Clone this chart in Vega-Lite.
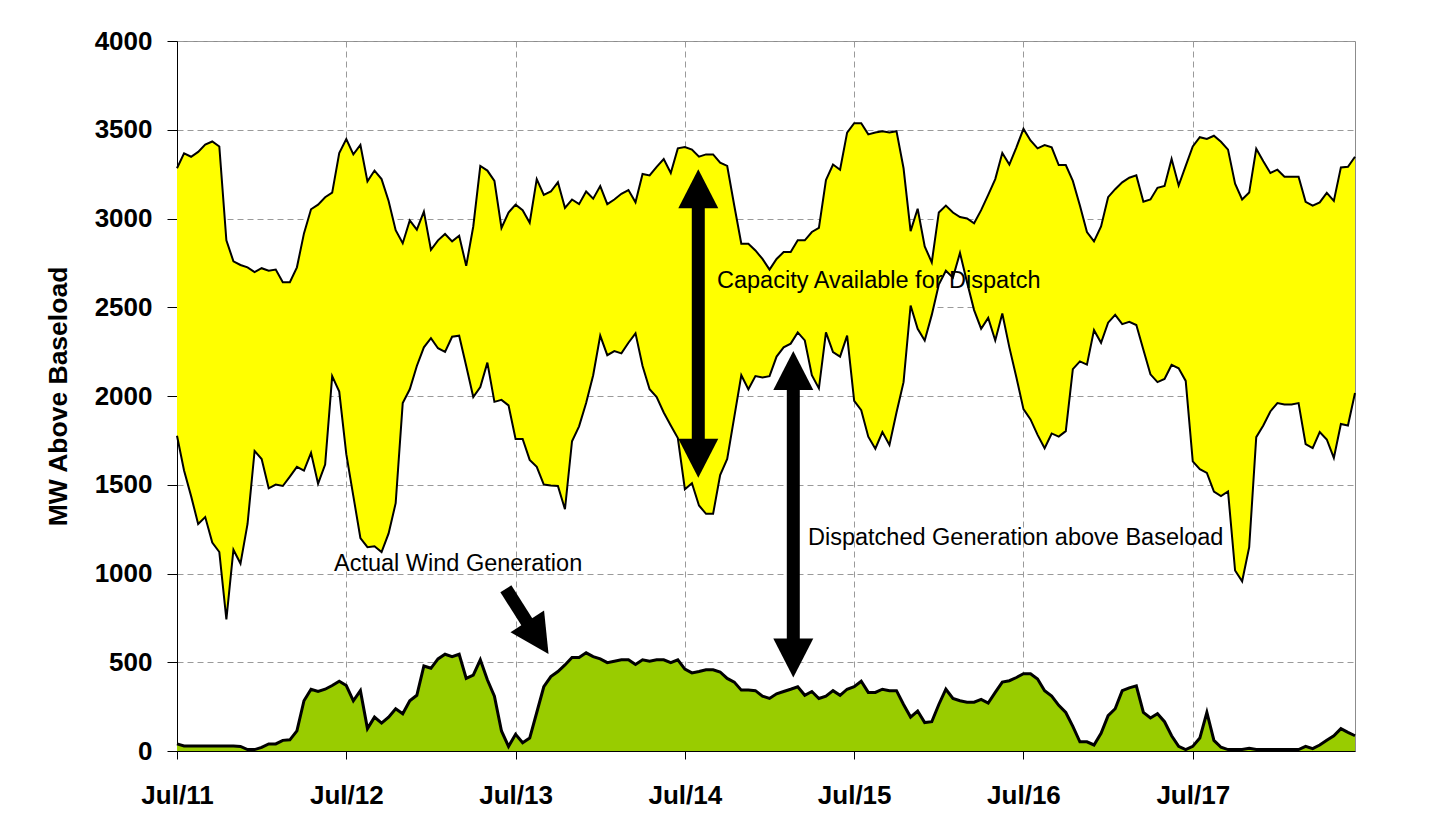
{
  "$schema": "https://vega.github.io/schema/vega-lite/v6.json",
  "width": 1178,
  "height": 710,
  "autosize": "none",
  "padding": {"left": 177, "top": 41, "right": 77, "bottom": 78},
  "background": "white",
  "config": {
    "view": {"stroke": "#8c8c8c", "strokeWidth": 1},
    "font": "Liberation Sans",
    "axis": {
      "grid": true,
      "gridColor": "#9a9a9a",
      "gridDash": [6, 4],
      "gridWidth": 1,
      "domainColor": "#000000",
      "domainWidth": 1,
      "tickColor": "#000000",
      "tickWidth": 1,
      "labelFont": "Liberation Sans",
      "labelFontWeight": "bold",
      "labelColor": "#000000",
      "titleFont": "Liberation Sans",
      "titleColor": "#000000"
    },
    "axisX": {"tickSize": 8, "labelPadding": 23, "labelFontSize": 26, "labelFlush": false, "labelOverlap": false},
    "axisY": {"tickSize": 10, "labelPadding": 15, "labelFontSize": 26, "titleFontSize": 26.5, "titleFontWeight": "bold", "titlePadding": 22}
  },
  "datasets": {
    "series": [
      {"hour":0,"upper":3283,"lower":1776,"wind":40},
      {"hour":1,"upper":3367,"lower":1580,"wind":28},
      {"hour":2,"upper":3348,"lower":1436,"wind":28},
      {"hour":3,"upper":3375,"lower":1279,"wind":28},
      {"hour":4,"upper":3416,"lower":1318,"wind":28},
      {"hour":5,"upper":3434,"lower":1174,"wind":28},
      {"hour":6,"upper":3406,"lower":1121,"wind":28},
      {"hour":7,"upper":2877,"lower":741,"wind":28},
      {"hour":8,"upper":2759,"lower":1134,"wind":28},
      {"hour":9,"upper":2738,"lower":1056,"wind":26},
      {"hour":10,"upper":2725,"lower":1279,"wind":8},
      {"hour":11,"upper":2698,"lower":1690,"wind":8},
      {"hour":12,"upper":2720,"lower":1645,"wind":20},
      {"hour":13,"upper":2706,"lower":1480,"wind":40},
      {"hour":14,"upper":2712,"lower":1501,"wind":40},
      {"hour":15,"upper":2641,"lower":1493,"wind":60},
      {"hour":16,"upper":2641,"lower":1546,"wind":63},
      {"hour":17,"upper":2725,"lower":1601,"wind":113},
      {"hour":18,"upper":2916,"lower":1580,"wind":283},
      {"hour":19,"upper":3052,"lower":1680,"wind":348},
      {"hour":20,"upper":3078,"lower":1506,"wind":335},
      {"hour":21,"upper":3120,"lower":1614,"wind":348},
      {"hour":22,"upper":3146,"lower":2112,"wind":369},
      {"hour":23,"upper":3369,"lower":2025,"wind":393},
      {"hour":24,"upper":3448,"lower":1672,"wind":369},
      {"hour":25,"upper":3361,"lower":1436,"wind":283},
      {"hour":26,"upper":3414,"lower":1200,"wind":340},
      {"hour":27,"upper":3209,"lower":1148,"wind":126},
      {"hour":28,"upper":3270,"lower":1153,"wind":191},
      {"hour":29,"upper":3222,"lower":1121,"wind":157},
      {"hour":30,"upper":3099,"lower":1226,"wind":191},
      {"hour":31,"upper":2934,"lower":1396,"wind":238},
      {"hour":32,"upper":2861,"lower":1960,"wind":210},
      {"hour":33,"upper":2989,"lower":2038,"wind":283},
      {"hour":34,"upper":2937,"lower":2169,"wind":314},
      {"hour":35,"upper":3039,"lower":2274,"wind":479},
      {"hour":36,"upper":2824,"lower":2326,"wind":466},
      {"hour":37,"upper":2877,"lower":2269,"wind":519},
      {"hour":38,"upper":2913,"lower":2248,"wind":545},
      {"hour":39,"upper":2871,"lower":2334,"wind":532},
      {"hour":40,"upper":2903,"lower":2340,"wind":545},
      {"hour":41,"upper":2733,"lower":2169,"wind":409},
      {"hour":42,"upper":2955,"lower":1994,"wind":427},
      {"hour":43,"upper":3296,"lower":2051,"wind":514},
      {"hour":44,"upper":3270,"lower":2188,"wind":401},
      {"hour":45,"upper":3212,"lower":1967,"wind":309},
      {"hour":46,"upper":2947,"lower":1978,"wind":113},
      {"hour":47,"upper":3034,"lower":1947,"wind":26},
      {"hour":48,"upper":3078,"lower":1758,"wind":94},
      {"hour":49,"upper":3047,"lower":1758,"wind":47},
      {"hour":50,"upper":2976,"lower":1640,"wind":73},
      {"hour":51,"upper":3222,"lower":1601,"wind":217},
      {"hour":52,"upper":3133,"lower":1501,"wind":362},
      {"hour":53,"upper":3152,"lower":1496,"wind":419},
      {"hour":54,"upper":3204,"lower":1493,"wind":448},
      {"hour":55,"upper":3060,"lower":1362,"wind":485},
      {"hour":56,"upper":3107,"lower":1745,"wind":527},
      {"hour":57,"upper":3081,"lower":1829,"wind":527},
      {"hour":58,"upper":3152,"lower":1960,"wind":553},
      {"hour":59,"upper":3112,"lower":2117,"wind":532},
      {"hour":60,"upper":3183,"lower":2340,"wind":519},
      {"hour":61,"upper":3081,"lower":2230,"wind":498},
      {"hour":62,"upper":3107,"lower":2253,"wind":506},
      {"hour":63,"upper":3139,"lower":2240,"wind":514},
      {"hour":64,"upper":3160,"lower":2300,"wind":514},
      {"hour":65,"upper":3091,"lower":2353,"wind":487},
      {"hour":66,"upper":3251,"lower":2169,"wind":514},
      {"hour":67,"upper":3243,"lower":2038,"wind":506},
      {"hour":68,"upper":3291,"lower":1994,"wind":514},
      {"hour":69,"upper":3335,"lower":1907,"wind":514},
      {"hour":70,"upper":3256,"lower":1834,"wind":498},
      {"hour":71,"upper":3395,"lower":1763,"wind":514},
      {"hour":72,"upper":3403,"lower":1475,"wind":461},
      {"hour":73,"upper":3388,"lower":1509,"wind":440},
      {"hour":74,"upper":3348,"lower":1383,"wind":448},
      {"hour":75,"upper":3361,"lower":1336,"wind":458},
      {"hour":76,"upper":3361,"lower":1336,"wind":458},
      {"hour":77,"upper":3314,"lower":1554,"wind":445},
      {"hour":78,"upper":3296,"lower":1645,"wind":409},
      {"hour":79,"upper":3073,"lower":1881,"wind":388},
      {"hour":80,"upper":2858,"lower":2117,"wind":343},
      {"hour":81,"upper":2858,"lower":2038,"wind":343},
      {"hour":82,"upper":2820,"lower":2112,"wind":340},
      {"hour":83,"upper":2772,"lower":2104,"wind":309},
      {"hour":84,"upper":2712,"lower":2112,"wind":296},
      {"hour":85,"upper":2772,"lower":2222,"wind":322},
      {"hour":86,"upper":2811,"lower":2274,"wind":335},
      {"hour":87,"upper":2811,"lower":2295,"wind":348},
      {"hour":88,"upper":2877,"lower":2358,"wind":362},
      {"hour":89,"upper":2877,"lower":2313,"wind":314},
      {"hour":90,"upper":2924,"lower":2117,"wind":335},
      {"hour":91,"upper":2947,"lower":2043,"wind":296},
      {"hour":92,"upper":3217,"lower":2358,"wind":309},
      {"hour":93,"upper":3304,"lower":2248,"wind":340},
      {"hour":94,"upper":3275,"lower":2222,"wind":314},
      {"hour":95,"upper":3484,"lower":2340,"wind":348},
      {"hour":96,"upper":3537,"lower":1973,"wind":362},
      {"hour":97,"upper":3537,"lower":1920,"wind":393},
      {"hour":98,"upper":3474,"lower":1771,"wind":330},
      {"hour":99,"upper":3484,"lower":1703,"wind":330},
      {"hour":100,"upper":3492,"lower":1797,"wind":348},
      {"hour":101,"upper":3484,"lower":1724,"wind":340},
      {"hour":102,"upper":3492,"lower":1907,"wind":340},
      {"hour":103,"upper":3283,"lower":2078,"wind":262},
      {"hour":104,"upper":2929,"lower":2510,"wind":191},
      {"hour":105,"upper":3055,"lower":2379,"wind":225},
      {"hour":106,"upper":2843,"lower":2313,"wind":160},
      {"hour":107,"upper":2753,"lower":2457,"wind":165},
      {"hour":108,"upper":3034,"lower":2628,"wind":262},
      {"hour":109,"upper":3073,"lower":2706,"wind":348},
      {"hour":110,"upper":3034,"lower":2667,"wind":296},
      {"hour":111,"upper":3008,"lower":2806,"wind":283},
      {"hour":112,"upper":3000,"lower":2641,"wind":275},
      {"hour":113,"upper":2973,"lower":2484,"wind":275},
      {"hour":114,"upper":3047,"lower":2379,"wind":291},
      {"hour":115,"upper":3133,"lower":2440,"wind":270},
      {"hour":116,"upper":3222,"lower":2313,"wind":330},
      {"hour":117,"upper":3369,"lower":2465,"wind":388},
      {"hour":118,"upper":3304,"lower":2274,"wind":396},
      {"hour":119,"upper":3401,"lower":2104,"wind":414},
      {"hour":120,"upper":3505,"lower":1926,"wind":435},
      {"hour":121,"upper":3440,"lower":1868,"wind":435},
      {"hour":122,"upper":3395,"lower":1781,"wind":406},
      {"hour":123,"upper":3414,"lower":1706,"wind":340},
      {"hour":124,"upper":3401,"lower":1789,"wind":309},
      {"hour":125,"upper":3301,"lower":1771,"wind":257},
      {"hour":126,"upper":3301,"lower":1802,"wind":217},
      {"hour":127,"upper":3212,"lower":2151,"wind":139},
      {"hour":128,"upper":3073,"lower":2195,"wind":52},
      {"hour":129,"upper":2924,"lower":2177,"wind":52},
      {"hour":130,"upper":2871,"lower":2371,"wind":34},
      {"hour":131,"upper":2955,"lower":2300,"wind":100},
      {"hour":132,"upper":3120,"lower":2413,"wind":199},
      {"hour":133,"upper":3165,"lower":2457,"wind":238},
      {"hour":134,"upper":3204,"lower":2405,"wind":340},
      {"hour":135,"upper":3230,"lower":2418,"wind":356},
      {"hour":136,"upper":3243,"lower":2400,"wind":367},
      {"hour":137,"upper":3094,"lower":2261,"wind":217},
      {"hour":138,"upper":3107,"lower":2122,"wind":186},
      {"hour":139,"upper":3173,"lower":2078,"wind":210},
      {"hour":140,"upper":3183,"lower":2096,"wind":165},
      {"hour":141,"upper":3335,"lower":2175,"wind":86},
      {"hour":142,"upper":3186,"lower":2156,"wind":26},
      {"hour":143,"upper":3296,"lower":2085,"wind":8},
      {"hour":144,"upper":3406,"lower":1632,"wind":26},
      {"hour":145,"upper":3458,"lower":1588,"wind":73},
      {"hour":146,"upper":3448,"lower":1567,"wind":217},
      {"hour":147,"upper":3466,"lower":1462,"wind":60},
      {"hour":148,"upper":3432,"lower":1436,"wind":21},
      {"hour":149,"upper":3388,"lower":1462,"wind":8},
      {"hour":150,"upper":3196,"lower":1017,"wind":8},
      {"hour":151,"upper":3107,"lower":956,"wind":8},
      {"hour":152,"upper":3146,"lower":1148,"wind":16},
      {"hour":153,"upper":3393,"lower":1768,"wind":8},
      {"hour":154,"upper":3322,"lower":1834,"wind":8},
      {"hour":155,"upper":3256,"lower":1913,"wind":8},
      {"hour":156,"upper":3275,"lower":1960,"wind":8},
      {"hour":157,"upper":3235,"lower":1952,"wind":8},
      {"hour":158,"upper":3235,"lower":1952,"wind":8},
      {"hour":159,"upper":3235,"lower":1960,"wind":8},
      {"hour":160,"upper":3094,"lower":1729,"wind":26},
      {"hour":161,"upper":3073,"lower":1706,"wind":13},
      {"hour":162,"upper":3091,"lower":1797,"wind":34},
      {"hour":163,"upper":3144,"lower":1755,"wind":60},
      {"hour":164,"upper":3099,"lower":1651,"wind":86},
      {"hour":165,"upper":3288,"lower":1842,"wind":126},
      {"hour":166,"upper":3291,"lower":1834,"wind":105},
      {"hour":167,"upper":3348,"lower":2017,"wind":86}
    ],
    "arrows": [
      {"hour":73.9,"mw":3080,"hour2":73.9,"mw2":1740},
      {"hour":87.37,"mw":2050,"hour2":87.37,"mw2":620},
      {"hour":46.62,"mw":914,"hour2":49.88,"mw2":710}
    ],
    "heads": [
      {"hour":73.9,"mw":3277,"dir":"up"},
      {"hour":73.9,"mw":1540,"dir":"down"},
      {"hour":87.37,"mw":2253,"dir":"up"},
      {"hour":87.37,"mw":414,"dir":"down"},
      {"hour":52.67,"mw":546,"dir":"diag"}
    ],
    "labels": [
      {"hour":76.55,"mw":2608,"label":"Capacity Available for Dispatch"},
      {"hour":89.45,"mw":1161,"label":"Dispatched Generation above Baseload"},
      {"hour":22.26,"mw":1014,"label":"Actual Wind Generation"}
    ]
  },
  "layer": [
    {
      "data": {"name": "series"},
      "mark": {"type": "area", "color": "#FFFF00", "opacity": 1},
      "encoding": {
        "x": {"field": "hour", "type": "quantitative", "title": null,
              "scale": {"domain": [0, 167], "nice": false, "zero": false},
              "axis": {"values": [0, 24, 48, 72, 96, 120, 144], "labelExpr": "'Jul/' + (11 + datum.value / 24)"}},
        "y": {"field": "upper", "type": "quantitative", "title": "MW Above Baseload",
              "scale": {"domain": [0, 4000], "nice": false},
              "axis": {"values": [0, 500, 1000, 1500, 2000, 2500, 3000, 3500, 4000], "format": "d"}},
        "y2": {"field": "lower"}
      }
    },
    {
      "data": {"name": "series"},
      "mark": {"type": "line", "color": "#000000", "strokeWidth": 2},
      "encoding": {
        "x": {"field": "hour", "type": "quantitative", "title": null},
        "y": {"field": "upper", "type": "quantitative", "title": "MW Above Baseload"}
      }
    },
    {
      "data": {"name": "series"},
      "mark": {"type": "line", "color": "#000000", "strokeWidth": 2},
      "encoding": {
        "x": {"field": "hour", "type": "quantitative", "title": null},
        "y": {"field": "lower", "type": "quantitative", "title": "MW Above Baseload"}
      }
    },
    {
      "data": {"name": "series"},
      "mark": {"type": "area", "color": "#99CC00", "opacity": 1},
      "encoding": {
        "x": {"field": "hour", "type": "quantitative", "title": null},
        "y": {"field": "wind", "type": "quantitative", "title": "MW Above Baseload"}
      }
    },
    {
      "data": {"name": "series"},
      "mark": {"type": "line", "color": "#000000", "strokeWidth": 3},
      "encoding": {
        "x": {"field": "hour", "type": "quantitative", "title": null},
        "y": {"field": "wind", "type": "quantitative", "title": "MW Above Baseload"}
      }
    },
    {
      "data": {"name": "arrows"},
      "mark": {"type": "rule", "color": "#000000", "strokeWidth": 13, "strokeCap": "butt"},
      "encoding": {
        "x": {"field": "hour", "type": "quantitative", "title": null},
        "y": {"field": "mw", "type": "quantitative", "title": "MW Above Baseload"},
        "x2": {"field": "hour2"},
        "y2": {"field": "mw2"}
      }
    },
    {
      "data": {"name": "heads"},
      "transform": [{"filter": "datum.dir === 'up'"}],
      "mark": {"type": "point", "shape": "M0,0L-1,1.95L1,1.95Z", "size": 1600, "filled": true, "color": "#000000", "opacity": 1, "strokeWidth": 0},
      "encoding": {
        "x": {"field": "hour", "type": "quantitative", "title": null},
        "y": {"field": "mw", "type": "quantitative", "title": "MW Above Baseload"}
      }
    },
    {
      "data": {"name": "heads"},
      "transform": [{"filter": "datum.dir !== 'up'"}],
      "mark": {"type": "point", "shape": "M0,0L-1,-1.95L1,-1.95Z", "size": 1600, "filled": true, "color": "#000000", "opacity": 1, "strokeWidth": 0},
      "encoding": {
        "x": {"field": "hour", "type": "quantitative", "title": null},
        "y": {"field": "mw", "type": "quantitative", "title": "MW Above Baseload"},
        "angle": {"condition": {"test": "datum.dir === 'diag'", "value": 327}, "value": 0}
      }
    },
    {
      "data": {"name": "labels"},
      "mark": {"type": "text", "align": "left", "baseline": "alphabetic", "font": "Liberation Sans", "fontSize": 23.5, "color": "#000000"},
      "encoding": {
        "x": {"field": "hour", "type": "quantitative", "title": null},
        "y": {"field": "mw", "type": "quantitative", "title": "MW Above Baseload"},
        "text": {"field": "label"}
      }
    }
  ]
}
